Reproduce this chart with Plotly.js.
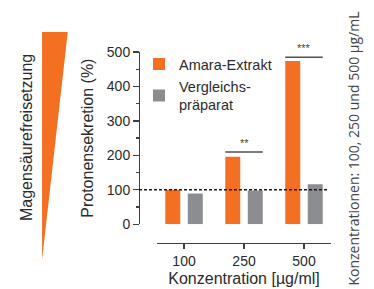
<!DOCTYPE html>
<html>
<head>
<meta charset="utf-8">
<script src="https://cdn.plot.ly/plotly-3.0.1.min.js"></script>
<style>html,body{margin:0;padding:0;background:#fff;}#chart{width:374px;height:289px;}</style>
</head>
<body>
<div id="chart"></div>
<script>
// ---- data ----
const categories = ['100', '250', '500'];
const amaraValues = [100, 196, 474];
const vergleichValues = [89, 98, 116];
const seriesNames = ['Amara-Extrakt', 'Vergleichs-<br>präparat'];
const yTickValues = [0, 100, 200, 300, 400, 500];
const baselineValue = 100;
const sigLabels = ['', '**', '***'];
const sigLevels = [null, 210, 485];
const sideLabel = 'Magensäurefreisetzung';
const noteText = 'Konzentrationen: 100, 250 und 500 µg/mL';

// ---- style ----
const ORANGE = '#F36F21';
const GRAY = '#8B8D90';
const TXT = '#2b2b2b';
const FONT = 'Liberation Sans, Arial, sans-serif';

const traces = [
  {type: 'bar', x: categories, y: amaraValues, name: seriesNames[0],
   marker: {color: ORANGE}},
  {type: 'bar', x: categories, y: vergleichValues, name: seriesNames[1],
   marker: {color: GRAY}}
];

const shapes = [];
const annotations = [];

// reference line
shapes.push({type: 'line', xref: 'paper', yref: 'y', x0: 0, x1: 0.984,
  y0: baselineValue, y1: baselineValue,
  line: {color: '#1a1a1a', width: 1.5, dash: '3px,2px'}});

// significance brackets
const halfGroup = 0.3125;
sigLevels.forEach((lvl, i) => {
  if (lvl === null) return;
  shapes.push({type: 'line', xref: 'x', yref: 'y',
    x0: i - halfGroup, x1: i + halfGroup, y0: lvl, y1: lvl,
    line: {color: '#505050', width: 1.5}});
  annotations.push({xref: 'x', yref: 'y', x: i, y: lvl, text: sigLabels[i],
    showarrow: false, yanchor: 'bottom', yshift: 1,
    font: {family: FONT, size: 11, color: '#444'}});
});

// decorative wedge
shapes.push({type: 'path', xref: 'paper', yref: 'paper',
  path: 'M -0.505 1.105 L -0.371 1.105 L -0.505 -0.089 Z',
  fillcolor: ORANGE, line: {width: 0}});

annotations.push({xref: 'paper', yref: 'paper', x: -0.583, y: 0.55,
  xanchor: 'center', yanchor: 'middle',
  text: sideLabel, textangle: -90, showarrow: false,
  font: {family: FONT, size: 16, color: TXT}});

annotations.push({xref: 'paper', yref: 'paper', x: 1.115, y: 0.495,
  xanchor: 'center', yanchor: 'middle',
  text: noteText, textangle: -90, showarrow: false,
  font: {family: 'Open Sans, sans-serif', size: 14, color: '#444'}});

const layout = {
  width: 374, height: 289,
  margin: {l: 139, r: 43, t: 52, b: 46, pad: 0},
  paper_bgcolor: '#fff', plot_bgcolor: '#fff',
  font: {family: FONT, color: TXT},
  barmode: 'group', bargap: 0.25, bargroupgap: 1/3,
  showlegend: true,
  legend: {x: 0.0, y: 1.02, xanchor: 'left', yanchor: 'top',
    font: {family: FONT, size: 14.5, color: TXT}, bgcolor: 'rgba(0,0,0,0)',
    tracegroupgap: 4},
  xaxis: {domain: [0.094, 1], range: [-0.45, 2.45], type: 'category',
    anchor: 'free', position: 0,
    showline: true, linecolor: '#404040', linewidth: 1.3,
    ticks: 'outside', ticklen: 5, tickcolor: '#404040', tickwidth: 1.3,
    showgrid: false, zeroline: false,
    tickfont: {family: FONT, size: 14, color: TXT},
    title: {text: 'Konzentration [µg/ml]', font: {family: FONT, size: 16, color: TXT}, standoff: 4}},
  yaxis: {domain: [0.098, 1], range: [0, 500],
    anchor: 'free', position: 0,
    tickvals: yTickValues,
    showline: true, linecolor: '#404040', linewidth: 1.3,
    ticks: 'outside', ticklen: 6, tickcolor: '#404040', tickwidth: 1.3,
    minor: {dtick: 50, ticks: 'outside', ticklen: 3, tickcolor: '#404040', tickwidth: 1.3, showgrid: false},
    showgrid: false, zeroline: false,
    tickfont: {family: FONT, size: 14, color: TXT},
    title: {text: 'Protonensekretion (%)', font: {family: FONT, size: 16, color: TXT}, standoff: 8}},
  shapes: shapes,
  annotations: annotations
};

Plotly.newPlot('chart', traces, layout, {displayModeBar: false, staticPlot: true});
</script>
</body>
</html>
